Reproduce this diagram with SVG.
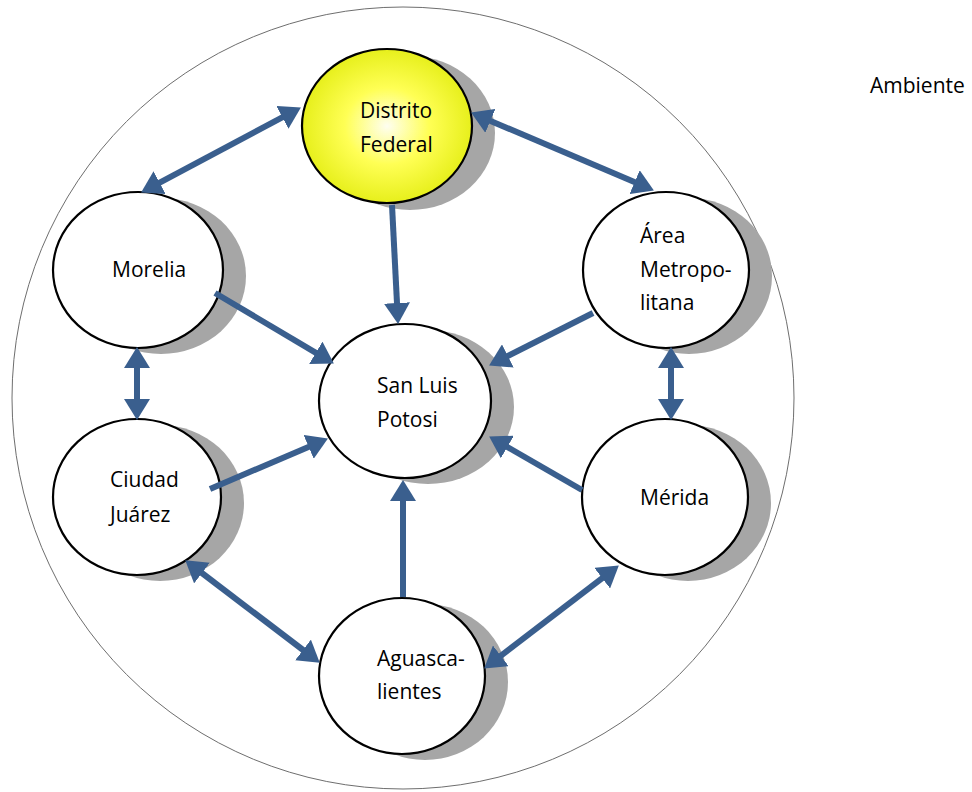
<svg xmlns="http://www.w3.org/2000/svg" width="972" height="792" viewBox="0 0 972 792">
  <style>
    .env { fill: none; stroke: #6e6e6e; stroke-width: 1; }
    .shadow { fill: #a6a6a6; }
    .node { fill: #ffffff; stroke: #000000; stroke-width: 2.2; }
    .node.hot { fill: url(#yellowGlow); }
    .label { font-family: "Open Sans", "Noto Sans", "DejaVu Sans", sans-serif; font-size: 21px; fill: #000000; }
    .link { fill: none; stroke: #3a5f8e; stroke-width: 6; stroke-linecap: butt; }
    .one { marker-end: url(#head); }
    .two { marker-start: url(#head); marker-end: url(#head); }
  </style>
  <defs>
    <radialGradient id="yellowGlow" cx="50%" cy="50%" r="55%">
      <stop offset="0" stop-color="#fefef0"/>
      <stop offset="0.45" stop-color="#ffff55"/>
      <stop offset="1" stop-color="#e2ec10"/>
    </radialGradient>
    <marker id="head" markerUnits="userSpaceOnUse" markerWidth="22" markerHeight="26" refX="10" refY="13" orient="auto-start-reverse" viewBox="0 0 22 26">
      <path d="M0,0 L21,13 L0,26 z" fill="#3a5f8e"/>
    </marker>
  </defs>

  <rect width="972" height="792" fill="#ffffff"/>

  <!-- surrounding environment -->
  <circle class="env" cx="403" cy="398" r="391"/>
  <text class="label" x="870" y="93">Ambiente</text>

  <g id="distrito-federal">
    <ellipse class="shadow" cx="410" cy="133" rx="85" ry="77"/>
    <ellipse class="node hot" cx="387" cy="126" rx="85" ry="77"/>
    <text class="label" x="360" y="118">Distrito</text>
    <text class="label" x="360" y="152">Federal</text>
  </g>

  <g id="morelia">
    <ellipse class="shadow" cx="161" cy="276" rx="85" ry="78"/>
    <ellipse class="node" cx="138" cy="270" rx="85" ry="78"/>
    <text class="label" x="112" y="277">Morelia</text>
  </g>

  <g id="area-metropolitana">
    <ellipse class="shadow" cx="689" cy="276" rx="83" ry="78"/>
    <ellipse class="node" cx="666" cy="270" rx="83" ry="78"/>
    <text class="label" x="640" y="243">Área</text>
    <text class="label" x="640" y="277">Metropo-</text>
    <text class="label" x="640" y="310">litana</text>
  </g>

  <g id="san-luis-potosi">
    <ellipse class="shadow" cx="428" cy="407" rx="86" ry="77"/>
    <ellipse class="node" cx="405" cy="401" rx="86" ry="77"/>
    <text class="label" x="377" y="393">San Luis</text>
    <text class="label" x="377" y="427">Potosi</text>
  </g>

  <g id="ciudad-juarez">
    <ellipse class="shadow" cx="160" cy="503" rx="84" ry="78"/>
    <ellipse class="node" cx="137" cy="497" rx="84" ry="78"/>
    <text class="label" x="110" y="487">Ciudad</text>
    <text class="label" x="110" y="522">Juárez</text>
  </g>

  <g id="merida">
    <ellipse class="shadow" cx="688" cy="503" rx="83" ry="78"/>
    <ellipse class="node" cx="665" cy="497" rx="83" ry="78"/>
    <text class="label" x="640" y="505">Mérida</text>
  </g>

  <g id="aguascalientes">
    <ellipse class="shadow" cx="425" cy="682" rx="83" ry="78"/>
    <ellipse class="node" cx="402" cy="676" rx="83" ry="78"/>
    <text class="label" x="377" y="666">Aguasca-</text>
    <text class="label" x="377" y="699">lientes</text>
  </g>

  <g id="connectors">
    <!-- two-way links around the ring -->
    <line class="link two" x1="150.8" y1="187.3" x2="291.2" y2="112.7"/>
    <line class="link two" x1="481.2" y1="116.9" x2="643.8" y2="186.1"/>
    <line class="link two" x1="137" y1="358" x2="137" y2="409"/>
    <line class="link two" x1="671" y1="358" x2="671" y2="409"/>
    <line class="link two" x1="194" y1="567" x2="311" y2="656"/>
    <line class="link two" x1="492.9" y1="661.9" x2="610.1" y2="572.1"/>
    <!-- one-way links into San Luis Potosi -->
    <line class="link one" x1="392" y1="205" x2="397.5" y2="313"/>
    <line class="link one" x1="215" y1="293" x2="324.4" y2="357.9"/>
    <line class="link one" x1="593" y1="313" x2="498.9" y2="360.5"/>
    <line class="link one" x1="210" y1="489" x2="317.8" y2="442.9"/>
    <line class="link one" x1="582" y1="490" x2="498.7" y2="442"/>
    <line class="link one" x1="403" y1="597" x2="403" y2="491"/>
  </g>
</svg>
